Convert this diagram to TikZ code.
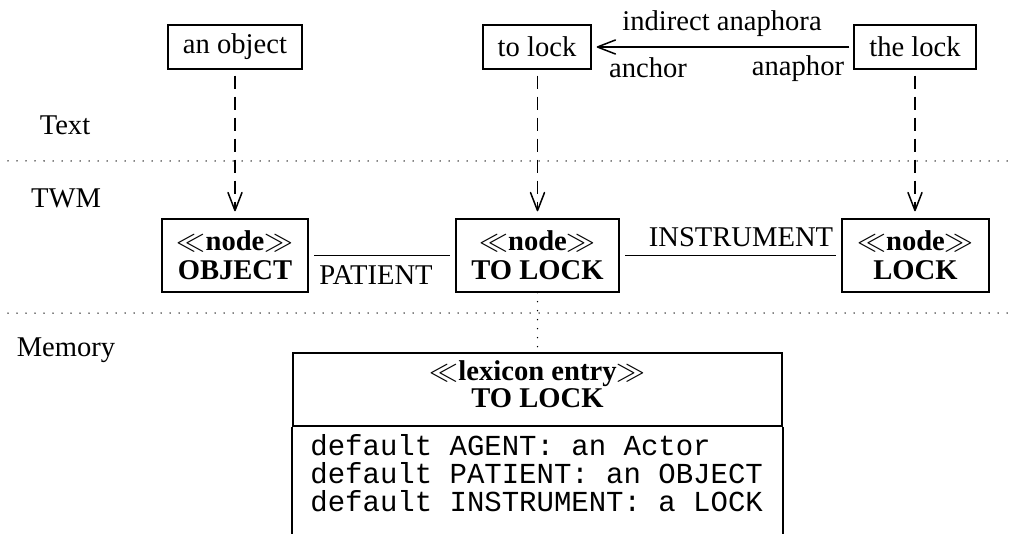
\documentclass[tikz,border=0pt]{standalone}
\usepackage{fontspec}
\setmainfont{Liberation Serif}
\setmonofont{Liberation Mono}
\usetikzlibrary{arrows.meta}
\begin{document}
\begin{tikzpicture}[x=0.5pt,y=-0.5pt,
  every node/.style={font=\fontsize{14.3}{14.5}\selectfont, inner sep=0pt},
  word/.style={draw, line width=0.65pt, minimum height=22pt},
  twm/.style={draw, line width=0.7pt, minimum height=36.5pt, align=center,
    font=\fontsize{14.3}{14.5}\selectfont\bfseries},
  arrowtip/.style={-{Straight Barb[length=9pt,width=7pt,line width=0.75pt,round]}},
  refline/.style={line width=0.7pt, dash pattern=on 6.5pt off 4pt, arrowtip,
    shorten <=3pt, shorten >=3.5pt},
  layer/.style={line width=0.75pt, dash pattern=on 0pt off 4.5pt, line cap=round},
  role/.style={line width=0.7pt, shorten <=2.75pt, shorten >=2.75pt},
  slot/.style={anchor=west, font=\fontsize{14.5}{14.5}\selectfont\ttfamily},
]
\useasboundingbox (0,0) rectangle (1010,534);

% layer separators
\draw[layer] (8,161) -- (1012,161);
\draw[layer] (8,313) -- (1012,313);

% layer names
\node (ltext) at (65,125) {Text};
\node (ltwm) at (66,198) {TWM};
\node (lmem) at (66,350) {Memory};

% words in the text
\node[word, minimum width=67pt] (obj) at (235,47) {an object};
\node[word, minimum width=54pt] (tolock) at (537,47) {to lock};
\node[word, minimum width=61pt] (thelock) at (915,47) {the lock};

% anaphora link
\draw[line width=0.7pt, arrowtip, shorten <=2pt, shorten >=2.5pt] (thelock) -- (tolock);
\node (ana) at (722,24) {indirect anaphora};
\node (anchor) at (648,68) {anchor};
\node (anaphor) at (798,69) {anaphor};

% nodes in the text world model
\node[twm, minimum width=73pt] (nobj) at (235,255.5) {\(\ll\)node\(\gg\)\\OBJECT};
\node[twm, minimum width=81.5pt] (nverb) at (537.5,255.5) {\(\ll\)node\(\gg\)\\TO LOCK};
\node[twm, minimum width=73.5pt] (nlock) at (915.5,255.5) {\(\ll\)node\(\gg\)\\LOCK};

% references from text to model
\draw[refline] (obj) -- (nobj);
\draw[refline] (tolock.south -| nverb) -- (nverb);
\draw[refline] (thelock) -- (nlock.north -| thelock);

% semantic roles
\draw[role] (nobj) -- (nverb);
\node (patient) at (376,275) {PATIENT};
\draw[role] (nverb) -- (nlock);
\node (instr) at (741,237) {INSTRUMENT};

% lexicon entry in memory
\node[draw, line width=0.8pt, minimum width=244.5pt, minimum height=36.5pt]
  (lexhead) at (537.5,389.5) {};
\node[align=center, font=\fontsize{14.3}{13.5}\selectfont\bfseries] (lextitle)
  at (537.5,384.5) {\(\ll\)lexicon entry\(\gg\)\\TO LOCK};
\draw[line width=0.8pt] (lexhead.south west) -- ++(0,120);
\draw[line width=0.8pt] (lexhead.south east) -- ++(0,120);
\node[slot] (s1) at (310,445) {default AGENT: an Actor};
\node[slot] (s2) at (310,473) {default PATIENT: an OBJECT};
\node[slot] (s3) at (310,501) {default INSTRUMENT: a LOCK};

% instance-of link
\draw[layer] (nverb.south) -- (lexhead.north);
\end{tikzpicture}
\end{document}
